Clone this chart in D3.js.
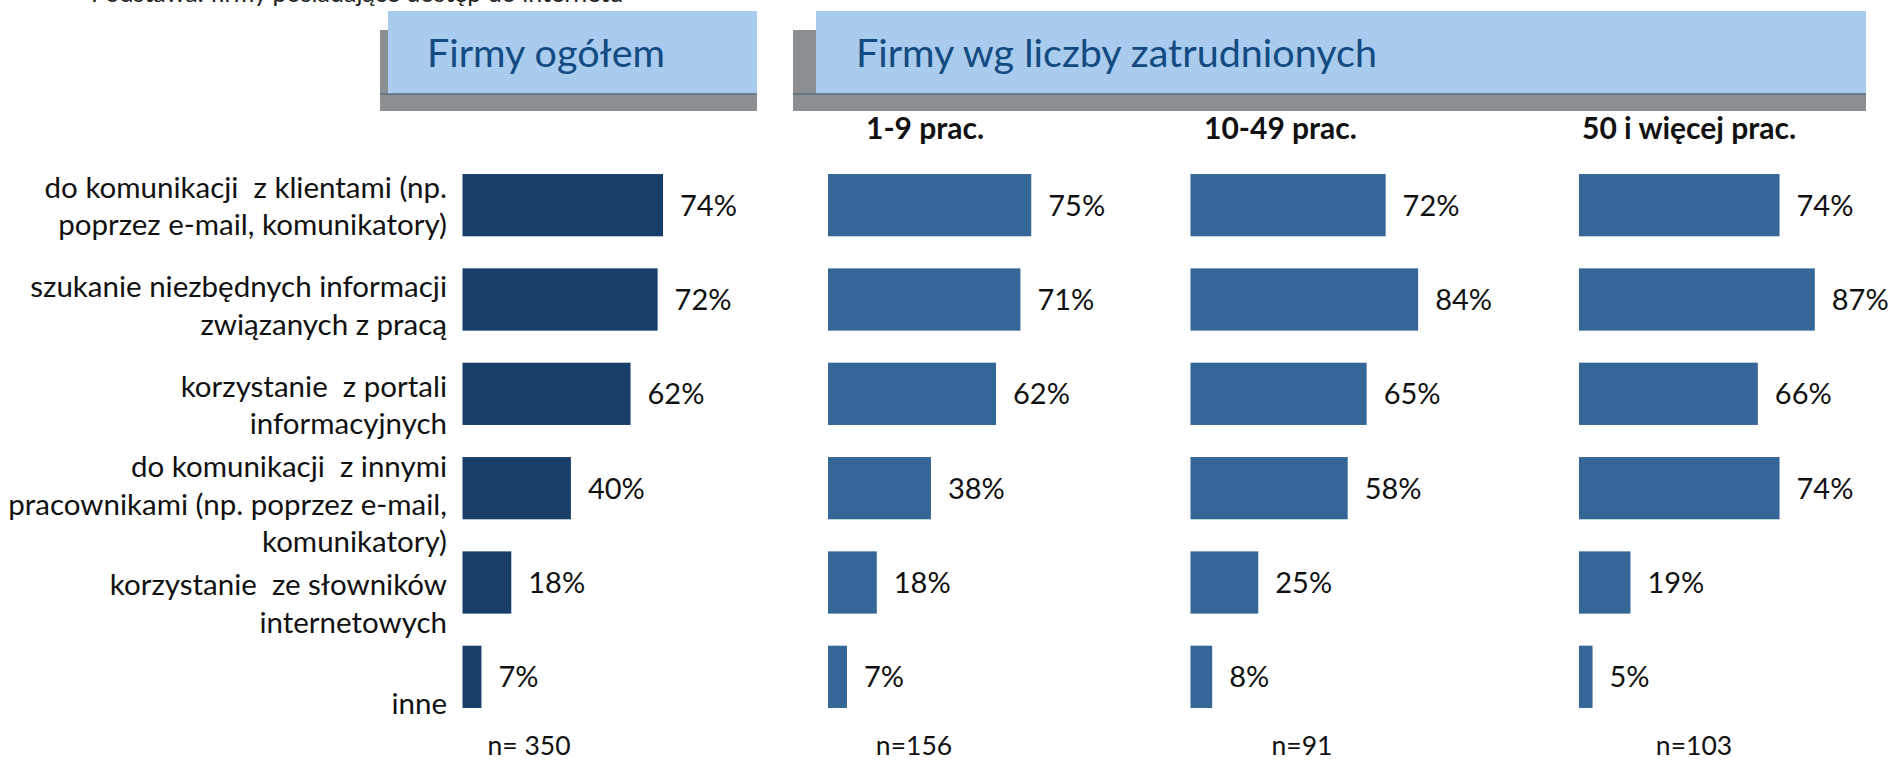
<!DOCTYPE html>
<html>
<head>
<meta charset="utf-8">
<script src="https://cdn.jsdelivr.net/npm/d3@7"></script>
<style>
  body { margin: 0; background: #fff; }
  text { font-family: Lato, "Open Sans", sans-serif; white-space: pre; }
</style>
</head>
<body>
<div id="chart"></div>
<script>
// data
var categories = [
    ["do komunikacji  z klientami (np.", "poprzez e-mail, komunikatory)"],
    ["szukanie niezbędnych informacji", "związanych z pracą"],
    ["korzystanie  z portali", "informacyjnych"],
    ["do komunikacji  z innymi", "pracownikami (np. poprzez e-mail,", "komunikatory)"],
    ["korzystanie  ze słowników", "internetowych"],
    ["inne"]
];
var totalValues = [74, 72, 62, 40, 18, 7];
var groups = ["1-9 prac.", "10-49 prac.", "50 i więcej prac."];
var group1Values = [75, 71, 62, 38, 18, 7];
var group2Values = [72, 84, 65, 58, 25, 8];
var group3Values = [74, 87, 66, 74, 19, 5];
var nLabels = ["n= 350", "n=156", "n=91", "n=103"];
var subtitle = "Podstawa: firmy posiadające dostęp do internetu";
var headerTotal = "Firmy ogółem";
var headerGroups = "Firmy wg liczby zatrudnionych";

var w = 1890,
    h = 760;

var svg = d3.select("#chart")
    .append("svg")
    .attr("width", w)
    .attr("height", h);

var idx = d3.range(categories.length);

// shared scales
var x = d3.scaleLinear().domain([0, 100]).range([0, 271]);

var y = d3.scaleBand()
    .domain(idx)
    .range([158, 724])
    .paddingInner(0.34)
    .paddingOuter(0.17);

// label rows of the total panel sit on their own spacing
var yLabel = d3.scalePoint()
    .domain(idx)
    .range([216.5, 713.5]);

// panels: total + three size groups
var panels = [
    {values: totalValues, x0: 462.5, color: "#173f6a", n: nLabels[0], nx: 529},
    {values: group1Values, x0: 828, color: "#346798", n: nLabels[1], nx: 914, title: groups[0], tx: 866},
    {values: group2Values, x0: 1190.5, color: "#346798", n: nLabels[2], nx: 1302, title: groups[1], tx: 1204},
    {values: group3Values, x0: 1579, color: "#346798", n: nLabels[3], nx: 1694, title: groups[2], tx: 1582}
];

// cut-off subtitle at the very top
svg.append("text")
    .attr("x", 91)
    .attr("y", 2)
    .style("font-size", "25px")
    .style("fill", "#222")
    .text(subtitle);

// header boxes
function header(x0, x1, x2, label, tx) {
    var g = svg.append("g").attr("class", "header");
    g.append("rect")
        .attr("x", x0).attr("y", 30)
        .attr("width", x2 - x0).attr("height", 81)
        .style("fill", "#8b8f92");
    g.append("rect")
        .attr("x", x1).attr("y", 11)
        .attr("width", x2 - x1).attr("height", 83)
        .style("fill", "#a9cbee");
    g.append("line")
        .attr("x1", x0).attr("x2", x2)
        .attr("y1", 94).attr("y2", 94)
        .style("stroke", "#5b6b7b")
        .style("stroke-width", 1.5);
    g.append("text")
        .attr("x", tx)
        .attr("y", 67)
        .style("font-size", "39.5px")
        .style("fill", "#124a82")
        .text(label);
}
header(380, 388, 757, headerTotal, 427);
header(793, 816, 1866, headerGroups, 856);

// category labels
var labels = svg.append("g")
    .attr("class", "labels")
    .selectAll("text")
    .data(categories)
    .enter()
    .append("text")
    .attr("text-anchor", "end")
    .style("font-size", "29.5px")
    .style("fill", "#111")
    .attr("y", function(d, i) {
        return yLabel(i) - (d.length - 1) * 37.5 / 2;
    });

labels.selectAll("tspan")
    .data(function(d) { return d; })
    .enter()
    .append("tspan")
    .attr("x", 447)
    .attr("dy", function(d, i) { return i ? 37.5 : 0; })
    .text(function(d) { return d; });

// bars + value labels
panels.forEach(function(p) {
    var g = svg.append("g")
        .attr("transform", "translate(" + p.x0 + ",0)");

    g.selectAll("rect")
        .data(p.values)
        .enter()
        .append("rect")
        .attr("x", 0)
        .attr("y", function(d, i) { return y(i); })
        .attr("width", function(d) { return x(d); })
        .attr("height", y.bandwidth())
        .style("fill", p.color);

    g.selectAll("text.val")
        .data(p.values)
        .enter()
        .append("text")
        .attr("class", "val")
        .attr("x", function(d) { return x(d) + 17; })
        .attr("y", function(d, i) { return y(i) + y.bandwidth() / 2; })
        .attr("dy", "0.36em")
        .style("font-size", "29px")
        .style("fill", "#111")
        .text(function(d) { return d + "%"; });

    if (p.title) {
        svg.append("text")
            .attr("x", p.tx)
            .attr("y", 139)
            .style("font-size", "30px")
            .style("font-weight", "bold")
            .style("fill", "#111")
            .text(p.title);
    }

    svg.append("text")
        .attr("x", p.nx)
        .attr("y", 755)
        .attr("text-anchor", "middle")
        .style("font-size", "26.5px")
        .style("fill", "#111")
        .text(p.n);
});
</script>
</body>
</html>
